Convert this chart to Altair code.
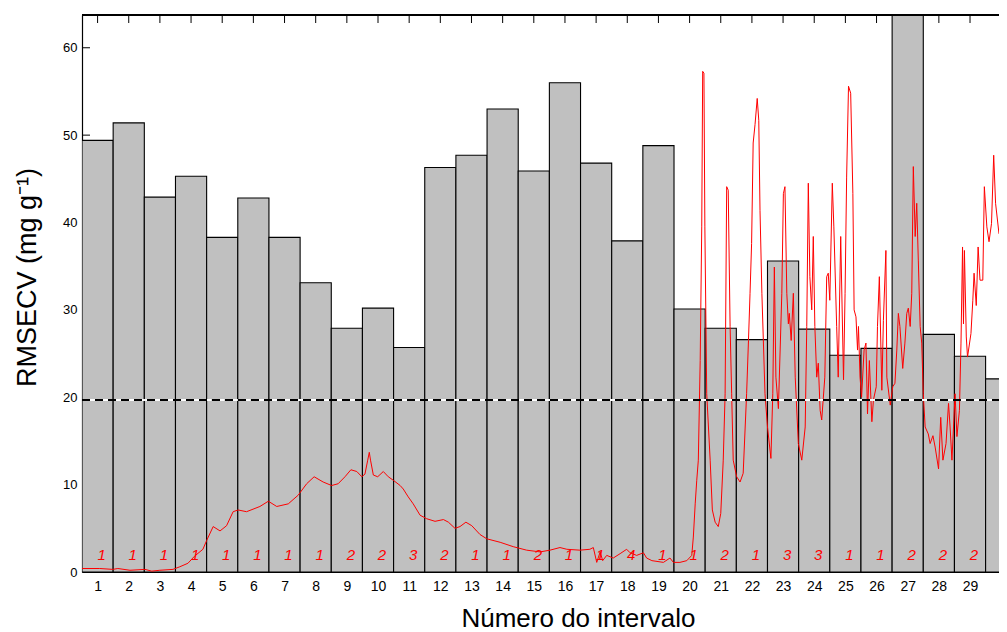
import altair as alt
import pandas as pd

# ---- data ----
intervals = list(range(1, 31))
rmsecv = [49.4, 51.4, 42.9, 45.3, 38.3, 42.8, 38.3, 33.1, 27.9, 30.2,
          25.7, 46.3, 47.7, 53.0, 45.9, 56.0, 46.8, 37.9, 48.8, 30.1,
          27.9, 26.6, 35.6, 27.8, 24.8, 25.6, 70.0, 27.2, 24.7, 22.1]
n_lv = [1, 1, 1, 1, 1, 1, 1, 1, 2, 2, 3, 2, 1, 1, 2, 1, 1, 4, 1, 1,
        2, 1, 3, 3, 1, 1, 2, 2, 2, 5]
rmsecv_global = 19.7
y_tick_values = [0, 10, 20, 30, 40, 50, 60]

spec_x = [0.50, 1.07, 1.49, 1.65, 2.04, 2.52, 2.74, 3.00, 3.42, 3.64,
          3.90, 4.11, 4.38, 4.50, 4.71, 4.93, 5.14, 5.35, 5.51, 5.78,
          6.21, 6.48, 6.75, 7.12, 7.44, 7.71, 7.95, 8.24, 8.51, 8.72,
          8.94, 9.13, 9.32, 9.48, 9.58, 9.67, 9.72, 9.76, 9.85, 9.99,
          10.17, 10.33, 10.49, 10.71, 10.81, 10.97, 11.13, 11.35, 11.56, 11.83,
          12.10, 12.26, 12.47, 12.63, 12.82, 13.01, 13.27, 13.49, 13.92, 14.34,
          14.77, 15.20, 15.52, 15.84, 16.06, 16.48, 16.80, 16.91, 17.02, 17.13,
          17.21, 17.34, 17.55, 17.77, 17.98, 18.09, 18.30, 18.52, 18.62, 18.79,
          19.16, 19.37, 19.48, 19.69, 19.91, 20.07, 20.12, 20.18, 20.23, 20.28,
          20.34, 20.39, 20.42, 20.46, 20.49, 20.55, 20.66, 20.73, 20.82, 20.92,
          21.00, 21.08, 21.14, 21.19, 21.24, 21.30, 21.35, 21.40, 21.51, 21.62,
          21.72, 21.83, 21.89, 21.94, 21.99, 22.04, 22.10, 22.17, 22.22, 22.26,
          22.32, 22.42, 22.50, 22.61, 22.67, 22.72, 22.77, 22.85, 22.96, 23.01,
          23.06, 23.12, 23.17, 23.20, 23.26, 23.33, 23.39, 23.49, 23.60, 23.71,
          23.76, 23.81, 23.86, 23.92, 23.97, 24.02, 24.08, 24.13, 24.19, 24.24,
          24.34, 24.40, 24.45, 24.50, 24.58, 24.63, 24.72, 24.77, 24.85, 24.94,
          24.99, 25.04, 25.10, 25.17, 25.24, 25.28, 25.34, 25.39, 25.42, 25.47,
          25.52, 25.60, 25.66, 25.71, 25.77, 25.82, 25.85, 25.90, 25.99, 26.03,
          26.09, 26.17, 26.22, 26.30, 26.33, 26.44, 26.52, 26.59, 26.65, 26.70,
          26.75, 26.84, 26.91, 26.97, 27.02, 27.08, 27.13, 27.18, 27.24, 27.29,
          27.34, 27.40, 27.45, 27.50, 27.56, 27.66, 27.72, 27.81, 27.88, 27.99,
          28.06, 28.13, 28.23, 28.31, 28.36, 28.42, 28.47, 28.52, 28.58, 28.66,
          28.71, 28.76, 28.79, 28.82, 28.88, 28.92, 29.03, 29.09, 29.13, 29.20,
          29.26, 29.32, 29.41, 29.46, 29.54, 29.61, 29.69, 29.76, 29.82, 29.93,
          30.01, 30.06, 30.10, 30.17]
spec_y = [0.4, 0.4, 0.3, 0.4, 0.2, 0.3, 0.1, 0.2, 0.3, 0.6,
          1.0, 1.8, 2.6, 3.6, 5.2, 4.7, 5.3, 6.9, 7.1, 6.9,
          7.5, 8.1, 7.5, 7.8, 8.8, 10.1, 10.9, 10.3, 9.9, 10.1,
          10.9, 11.7, 11.5, 10.9, 11.2, 12.8, 13.7, 12.8, 11.1, 10.9,
          11.5, 10.9, 10.5, 9.9, 9.5, 8.6, 7.8, 6.5, 6.1, 5.8,
          6.0, 5.7, 5.0, 5.2, 5.7, 5.3, 4.3, 3.8, 3.4, 2.9,
          2.5, 2.3, 2.5, 2.8, 2.6, 2.5, 2.6, 2.8, 1.1, 2.3,
          1.3, 1.9, 1.6, 2.1, 2.6, 2.2, 1.9, 2.2, 1.6, 1.3,
          1.1, 1.6, 1.1, 1.1, 1.3, 1.9, 4.0, 7.8, 10.5, 12.8,
          24.2, 39.5, 57.3, 57.1, 39.5, 20.4, 12.8, 7.1, 5.7, 5.2,
          6.7, 12.8, 20.4, 44.1, 43.7, 28.1, 20.4, 12.8, 10.9, 10.3,
          11.3, 20.4, 26.5, 31.9, 37.6, 49.1, 51.2, 54.2, 51.7, 41.4,
          31.9, 20.4, 16.6, 13.0, 20.4, 34.9, 22.3, 18.7, 31.9, 43.3,
          44.1, 31.9, 28.4, 29.6, 26.5, 31.9, 22.3, 14.7, 12.8, 16.6,
          28.1, 44.5, 33.8, 30.0, 38.4, 28.1, 22.3, 23.9, 18.5, 17.4,
          22.3, 33.8, 34.2, 31.1, 44.5, 39.5, 28.1, 22.3, 38.4, 22.0,
          31.9, 45.2, 55.6, 54.8, 43.3, 30.0, 29.2, 25.4, 28.1, 22.3,
          20.0, 25.4, 26.2, 18.1, 24.2, 19.7, 17.2, 19.7, 21.2, 28.1,
          33.8, 20.8, 28.8, 36.8, 22.3, 19.1, 21.2, 21.6, 25.4, 29.6,
          28.1, 23.3, 26.2, 29.6, 30.2, 28.1, 31.9, 46.4, 38.4, 42.2,
          35.7, 28.1, 26.2, 20.4, 16.6, 15.8, 14.7, 15.6, 14.3, 11.8,
          17.7, 12.8, 14.7, 19.3, 16.6, 12.8, 16.6, 20.4, 15.5, 18.5,
          26.2, 37.2, 28.4, 36.8, 26.9, 24.6, 27.3, 31.1, 34.2, 30.5,
          37.2, 33.4, 33.4, 44.1, 39.5, 37.8, 39.9, 47.7, 42.2, 38.7,
          38.7, 45.2, 47.7, 40.6]
assert len(spec_x) == len(spec_y)

# ---- layout ----
W, H = 917, 557
X_MAX = 29.93
Y_MAX = 63.75
FONT = "Liberation Sans"

bars_df = pd.DataFrame({"interval": intervals, "rmsecv": rmsecv, "nlv": n_lv})
spec_df = pd.DataFrame({"sx": spec_x, "sy": spec_y})
yt_df = pd.DataFrame({"v": y_tick_values})

xs = alt.Scale(domain=[0.5, X_MAX], nice=False, zero=False)
ys = alt.Scale(domain=[0, Y_MAX], nice=False, zero=True)

x_axis = alt.Axis(values=intervals, format="d", ticks=False, labelFontSize=14,
                  labelPadding=7, title="Número do intervalo", titleFontSize=26,
                  titleX=496, titleY=54, titleAlign="center", titleBaseline="alphabetic",
                  labelFlush=False, labelOverlap=False, labelBound=False)
y_axis = alt.Axis(values=y_tick_values, ticks=False, labelFontSize=13, labelPadding=5,
                  title="RMSECV (mg g⁻¹)", titleFontSize=27, titleX=-47, titleY=262,
                  titleAlign="center", titleBaseline="alphabetic", titleAngle=270,
                  labelOverlap=False)

top_ticks = alt.Chart(bars_df).mark_rule(color="black", strokeWidth=1).encode(
    x=alt.X("interval:Q", scale=xs, axis=x_axis),
    y=alt.value(0), y2=alt.value(8))

left_ticks = alt.Chart(yt_df).mark_rule(color="black", strokeWidth=1).encode(
    y=alt.Y("v:Q", scale=ys, axis=y_axis),
    x=alt.value(0), x2=alt.value(8))

bars = alt.Chart(bars_df).transform_calculate(
    xl="datum.interval - 0.5", xr="datum.interval + 0.5"
).mark_bar(fill="#c0c0c0", stroke="black", strokeWidth=1.1, clip=True).encode(
    x=alt.X("xl:Q", scale=xs, axis=x_axis), x2="xr:Q",
    y=alt.Y("rmsecv:Q", scale=ys, axis=y_axis), y2=alt.datum(0))

spec_line = alt.Chart(spec_df).mark_line(color="#ff0000", strokeWidth=1, clip=True).encode(
    x=alt.X("sx:Q", scale=xs, axis=x_axis), y=alt.Y("sy:Q", scale=ys, axis=y_axis))

ref_white = alt.Chart(bars_df).mark_rule(color="white", strokeWidth=1).encode(
    y=alt.datum(rmsecv_global), x=alt.value(0), x2=alt.value(W))
ref_dash = alt.Chart(bars_df).mark_rule(color="black", strokeWidth=2, strokeDash=[8, 5]).encode(
    y=alt.datum(rmsecv_global), x=alt.value(0), x2=alt.value(W))

lv_text = alt.Chart(bars_df).mark_text(color="#ff0000", fontStyle="italic", fontSize=15,
                                      font=FONT, dx=4, baseline="middle", clip=True).encode(
    x=alt.X("interval:Q", scale=xs, axis=x_axis), y=alt.value(H - 17), text="nlv:N")

top_border = alt.Chart(bars_df).mark_rule(color="black", strokeWidth=1.2).encode(
    x=alt.value(0), x2=alt.value(W), y=alt.value(0))

chart = alt.layer(top_ticks, left_ticks, bars, spec_line, ref_white, ref_dash,
                  lv_text, top_border).properties(
    width=W, height=H,
    autosize=alt.AutoSizeParams(type="none"),
    padding={"left": 74, "top": 7, "right": 0, "bottom": 60},
).configure_view(stroke=None).configure_axis(
    grid=False, labelFont=FONT, titleFont=FONT, labelColor="black", titleColor="black",
    domainColor="black", domainWidth=1.2, titleFontWeight="normal", labelOverlap=False)

chart.save("out.html", embed_options={"renderer": "svg", "actions": False})
